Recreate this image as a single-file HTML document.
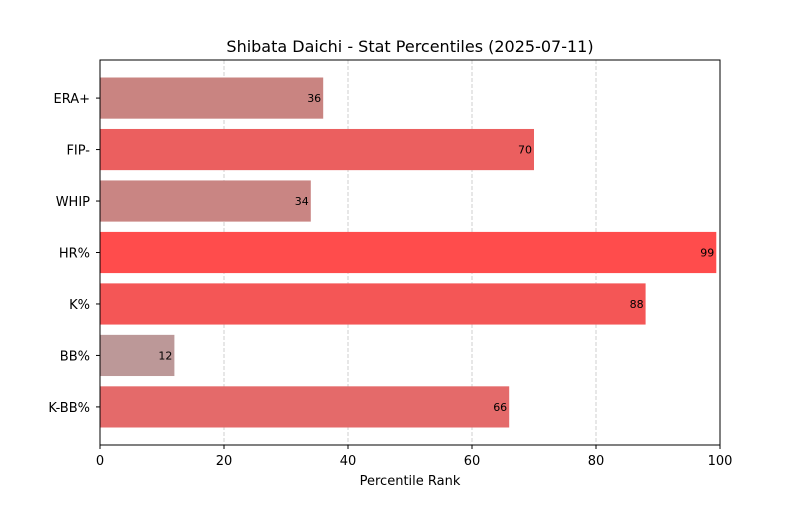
<!DOCTYPE html>
<html><head><meta charset="utf-8"><style>
body{margin:0;background:#fff;}
svg{font-family:"DejaVu Sans","Liberation Sans",sans-serif;}
</style></head><body>
<svg id="chart" width="800" height="500">
<rect width="800" height="500" fill="#fff"/>
<text x="410" y="52" font-size="16" text-anchor="middle">Shibata Daichi - Stat Percentiles (2025-07-11)</text>
<g id="grid"></g><g id="bars"></g><g id="axes"></g>
<text x="410" y="485" font-size="13" text-anchor="middle">Percentile Rank</text>
</svg>
<script>
const categories = ["ERA+","FIP-","WHIP","HR%","K%","BB%","K-BB%"];
const values = [36,70,34,99.4,88,12,66];
const xTicks = [0,20,40,60,80,100];
const barColors = ["#c98481","#eb5f5f","#c98583","#ff4c4c","#f45656","#bc9898","#e46a6a"];
const NS="http://www.w3.org/2000/svg";
const L=100,R=720,T=60,B=445;
const xS=v=>L+(v/100)*(R-L);
const yMin=-0.74,yMax=6.74;
const yS=i=>T+((i)-yMin)/(yMax-yMin)*(B-T);
function mk(t,a,p){const e=document.createElementNS(NS,t);for(const k in a)e.setAttribute(k,a[k]);p.appendChild(e);return e;}
const grid=document.getElementById('grid'),bars=document.getElementById('bars'),axes=document.getElementById('axes');
xTicks.forEach(t=>{
  if(t>0&&t<100){const g=mk('line',{x1:xS(t),x2:xS(t),y1:T,y2:B,stroke:'#c4c4c4','stroke-dasharray':'4,2','stroke-width':0.8},grid);
  
  }
  const tk=mk('line',{x1:xS(t),x2:xS(t),y1:B,y2:B+4,stroke:'#000'},axes);
  
  
  const tl=mk('text',{x:xS(t),y:B+20,'font-size':13,'text-anchor':'middle'},axes);tl.textContent=t;
  
  
});
categories.forEach((c,i)=>{
  const yc=yS(i);
  const r=mk('rect',{x:xS(0),y:yc-0.4*(B-T)/(yMax-yMin),width:xS(values[i])-xS(0),height:0.8*(B-T)/(yMax-yMin),fill:barColors[i]},bars);
  
  
  const v=mk('text',{x:xS(values[i])-2,y:yc+4,'font-size':11,'text-anchor':'end'},bars);v.textContent=Math.round(values[i]);
  
  
  const tk=mk('line',{x1:L-4,x2:L,y1:yc,y2:yc,stroke:'#000'},axes);
  
  
  const tl=mk('text',{x:L-10,y:yc+5,'font-size':13,'text-anchor':'end'},axes);tl.textContent=c;
  
  
});
const f=mk('rect',{x:L,y:T,width:R-L,height:B-T,fill:'none',stroke:'#000','stroke-width':1},axes);


</script>
</body></html>
